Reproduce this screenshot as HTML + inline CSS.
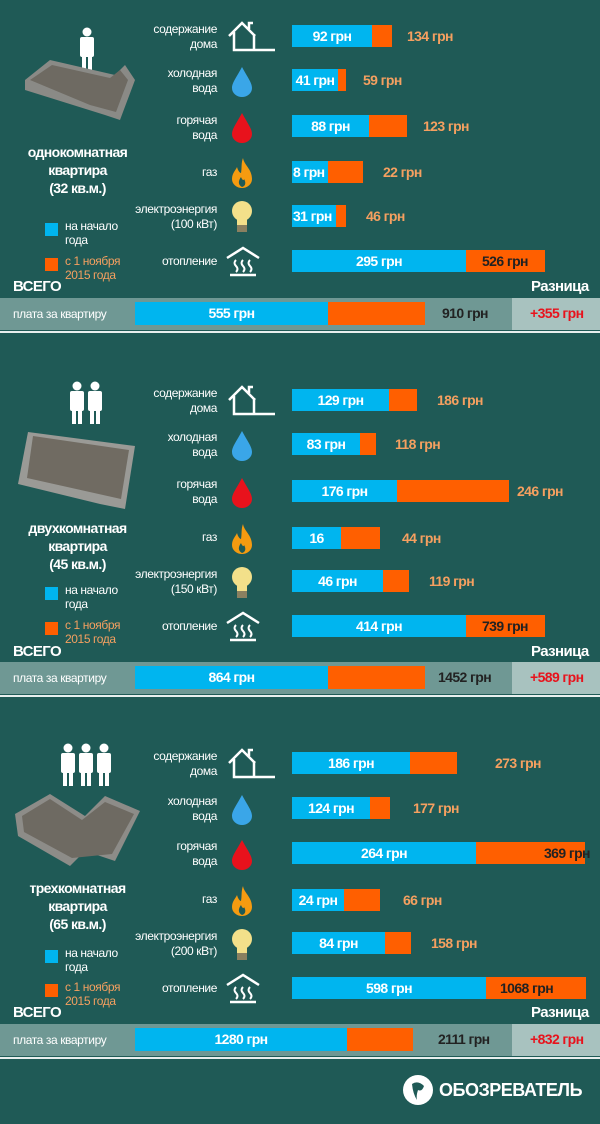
<!DOCTYPE html>
<html><head><meta charset="utf-8"><style>
*{margin:0;padding:0;box-sizing:border-box}
body{width:600px;height:1124px;background:#1f5a56;position:relative;overflow:hidden;font-family:"Liberation Sans",sans-serif;font-weight:bold;color:#fff}
.s{position:absolute;left:0;width:600px;height:340px}
.a{position:absolute;white-space:nowrap}
.lb{position:absolute;right:383px;text-align:right;font-size:12px;line-height:15px;color:#fff;font-weight:normal;letter-spacing:-0.4px;white-space:nowrap}
.b{position:absolute;height:22px;background:#ff5f00}
.bb{position:absolute;left:0;top:0;height:22px;background:#00b5ef;font-size:14px;line-height:22px;text-align:center;color:#fff;white-space:nowrap;letter-spacing:-0.6px}
.ol{position:absolute;font-size:14px;line-height:22px;color:#f5a060;white-space:nowrap;letter-spacing:-0.6px}
.ic{position:absolute}
.band{position:absolute;left:0;top:298px;width:600px;height:32px;background:#6f9894}
.band2{position:absolute;left:512px;top:298px;width:88px;height:32px;background:#a8c2bf}
.line{position:absolute;left:0;top:331px;width:600px;height:2px;background:#e8efee}
.title{position:absolute;left:0;width:155px;text-align:center;font-size:14px;line-height:18px;letter-spacing:-0.6px}
.lg{position:absolute;left:65px;font-size:12px;line-height:14px;font-weight:normal;letter-spacing:-0.4px;white-space:nowrap}
.tot{position:absolute;font-size:14px;line-height:23px;white-space:nowrap;letter-spacing:-0.6px}
.hd{position:absolute;font-size:15px;letter-spacing:-0.6px;white-space:nowrap}
</style></head><body>

<!-- SECTION 1 -->
<div class="s" style="top:0">
<svg class="ic" style="left:20px;top:20px" width="120" height="120"><g fill="#fff"><circle cx="67" cy="12" r="4.5"/><rect x="60" y="17" width="14" height="20" rx="2"/><rect x="62" y="35" width="4" height="15"/><rect x="68" y="35" width="4" height="15"/></g><polygon points="5,60 30,40 95,55 105,45 115,60 100,100 85,95 5,70" fill="#8a8a86"/><polygon points="10,60 32,45 90,58 100,50 108,60 96,92 70,85" fill="#6e6a62"/></svg>
<div class="title" style="top:143px">однокомнатная<br>квартира<br>(32 кв.м.)</div>
<div class="a" style="left:45px;top:223px;width:13px;height:13px;background:#00b5ef"></div>
<div class="lg" style="top:219px">на начало<br>года</div>
<div class="a" style="left:45px;top:258px;width:13px;height:13px;background:#ff5f00"></div>
<div class="lg" style="top:254px;color:#f5a060">с 1 ноября<br>2015 года</div>
<div class="hd" style="left:13px;top:278px">ВСЕГО</div>
<div class="hd" style="left:531px;top:278px">Разница</div>

<div class="lb" style="top:22px">содержание<br>дома</div>
<div class="lb" style="top:66px">холодная<br>вода</div>
<div class="lb" style="top:113px">горячая<br>вода</div>
<div class="lb" style="top:165px">газ</div>
<div class="lb" style="top:202px">электроэнергия<br>(100 кВт)</div>
<div class="lb" style="top:254px">отопление</div>

<svg class="ic" style="left:225px;top:20px" width="55" height="35"><path d="M4 16 L17 3 L30 16 M9 12 V30 H50 M24 9 V3 H28" fill="none" stroke="#fff" stroke-width="2.5"/><path d="M29 30 V14" stroke="#fff" stroke-width="2.5"/></svg>
<svg class="ic" style="left:230px;top:66px" width="24" height="32"><path d="M12 1 C6 12 2 17 2 22 A10 9 0 0 0 22 22 C22 17 18 12 12 1Z" fill="#3aa6e8"/></svg>
<svg class="ic" style="left:230px;top:112px" width="24" height="32"><path d="M12 1 C6 12 2 17 2 22 A10 9 0 0 0 22 22 C22 17 18 12 12 1Z" fill="#e8121c"/></svg>
<svg class="ic" style="left:230px;top:157px" width="24" height="32"><path d="M13 1 C14 8 22 12 22 22 A10 9 0 0 1 2 22 C2 16 6 13 7 10 C8 14 10 16 11 16 C12 11 11 6 13 1Z" fill="#f59b10"/><path d="M12 30 C8 28 8 24 11 20 C12 23 14 24 14 22 C16 25 16 29 12 30Z" fill="#1f5a56"/></svg>
<svg class="ic" style="left:230px;top:200px" width="24" height="34"><circle cx="12" cy="11" r="10" fill="#f3e08a"/><rect x="7" y="18" width="10" height="8" fill="#f3e08a"/><rect x="7" y="25" width="10" height="7" fill="#8a8060"/></svg>
<svg class="ic" style="left:225px;top:246px" width="36" height="32"><path d="M2 12 L18 2 L34 12" fill="none" stroke="#fff" stroke-width="2.5"/><path d="M11 14 q-3 3 0 6 q3 3 0 6 M18 14 q-3 3 0 6 q3 3 0 6 M25 14 q-3 3 0 6 q3 3 0 6" fill="none" stroke="#fff" stroke-width="2"/><path d="M5 29 H31" stroke="#fff" stroke-width="2.5"/></svg>

<div class="b" style="left:292px;top:25px;width:100px"><div class="bb" style="width:80px">92 грн</div></div><div class="ol" style="left:407px;top:25px">134 грн</div>
<div class="b" style="left:292px;top:69px;width:54px"><div class="bb" style="width:46px">41 грн</div></div><div class="ol" style="left:363px;top:69px">59 грн</div>
<div class="b" style="left:292px;top:115px;width:115px"><div class="bb" style="width:77px">88 грн</div></div><div class="ol" style="left:423px;top:115px">123 грн</div>
<div class="b" style="left:292px;top:161px;width:71px"><div class="bb" style="width:36px;text-align:left;padding-left:1px">8 грн</div></div><div class="ol" style="left:383px;top:161px">22 грн</div>
<div class="b" style="left:292px;top:205px;width:54px"><div class="bb" style="width:44px;text-align:left;padding-left:1px">31 грн</div></div><div class="ol" style="left:366px;top:205px">46 грн</div>
<div class="b" style="left:292px;top:250px;width:253px"><div class="bb" style="width:174px">295 грн</div></div><div class="ol" style="left:482px;top:250px;color:#222">526 грн</div>

<div class="band"></div><div class="band2"></div>
<div class="lg" style="left:13px;top:307px">плата за квартиру</div>
<div class="tot" style="left:135px;top:302px;width:193px;height:23px;background:#00b5ef;text-align:center">555 грн</div>
<div class="a" style="left:328px;top:302px;width:97px;height:23px;background:#ff5f00"></div>
<div class="tot" style="left:442px;top:302px;color:#222">910 грн</div>
<div class="tot" style="left:530px;top:302px;color:#e8121c">+355 грн</div>
<div class="line"></div>
</div>

<!-- SECTION 2 -->
<div class="s" style="top:364px">
<svg class="ic" style="left:15px;top:10px" width="125" height="140"><g fill="#fff"><circle cx="62" cy="12" r="4.5"/><rect x="55" y="17" width="14" height="20" rx="2"/><rect x="57" y="35" width="4" height="15"/><rect x="63" y="35" width="4" height="15"/><circle cx="80" cy="12" r="4.5"/><rect x="73" y="17" width="14" height="20" rx="2"/><rect x="75" y="35" width="4" height="15"/><rect x="81" y="35" width="4" height="15"/></g><polygon points="13,58 120,72 110,135 85,130 3,110" fill="#9a9a96"/><polygon points="18,62 114,76 106,125 12,104" fill="#706b62"/></svg>
<div class="title" style="top:155px">двухкомнатная<br>квартира<br>(45 кв.м.)</div>
<div class="a" style="left:45px;top:223px;width:13px;height:13px;background:#00b5ef"></div>
<div class="lg" style="top:219px">на начало<br>года</div>
<div class="a" style="left:45px;top:258px;width:13px;height:13px;background:#ff5f00"></div>
<div class="lg" style="top:254px;color:#f5a060">с 1 ноября<br>2015 года</div>
<div class="hd" style="left:13px;top:279px">ВСЕГО</div>
<div class="hd" style="left:531px;top:279px">Разница</div>

<div class="lb" style="top:22px">содержание<br>дома</div>
<div class="lb" style="top:66px">холодная<br>вода</div>
<div class="lb" style="top:113px">горячая<br>вода</div>
<div class="lb" style="top:166px">газ</div>
<div class="lb" style="top:203px">электроэнергия<br>(150 кВт)</div>
<div class="lb" style="top:255px">отопление</div>

<svg class="ic" style="left:225px;top:20px" width="55" height="35"><path d="M4 16 L17 3 L30 16 M9 12 V30 H50 M24 9 V3 H28" fill="none" stroke="#fff" stroke-width="2.5"/><path d="M29 30 V14" stroke="#fff" stroke-width="2.5"/></svg>
<svg class="ic" style="left:230px;top:66px" width="24" height="32"><path d="M12 1 C6 12 2 17 2 22 A10 9 0 0 0 22 22 C22 17 18 12 12 1Z" fill="#3aa6e8"/></svg>
<svg class="ic" style="left:230px;top:113px" width="24" height="32"><path d="M12 1 C6 12 2 17 2 22 A10 9 0 0 0 22 22 C22 17 18 12 12 1Z" fill="#e8121c"/></svg>
<svg class="ic" style="left:230px;top:159px" width="24" height="32"><path d="M13 1 C14 8 22 12 22 22 A10 9 0 0 1 2 22 C2 16 6 13 7 10 C8 14 10 16 11 16 C12 11 11 6 13 1Z" fill="#f59b10"/><path d="M12 30 C8 28 8 24 11 20 C12 23 14 24 14 22 C16 25 16 29 12 30Z" fill="#1f5a56"/></svg>
<svg class="ic" style="left:230px;top:202px" width="24" height="34"><circle cx="12" cy="11" r="10" fill="#f3e08a"/><rect x="7" y="18" width="10" height="8" fill="#f3e08a"/><rect x="7" y="25" width="10" height="7" fill="#8a8060"/></svg>
<svg class="ic" style="left:225px;top:247px" width="36" height="32"><path d="M2 12 L18 2 L34 12" fill="none" stroke="#fff" stroke-width="2.5"/><path d="M11 14 q-3 3 0 6 q3 3 0 6 M18 14 q-3 3 0 6 q3 3 0 6 M25 14 q-3 3 0 6 q3 3 0 6" fill="none" stroke="#fff" stroke-width="2"/><path d="M5 29 H31" stroke="#fff" stroke-width="2.5"/></svg>

<div class="b" style="left:292px;top:25px;width:125px"><div class="bb" style="width:97px">129 грн</div></div><div class="ol" style="left:437px;top:25px">186 грн</div>
<div class="b" style="left:292px;top:69px;width:84px"><div class="bb" style="width:68px">83 грн</div></div><div class="ol" style="left:395px;top:69px">118 грн</div>
<div class="b" style="left:292px;top:116px;width:217px"><div class="bb" style="width:105px">176 грн</div></div><div class="ol" style="left:517px;top:116px">246 грн</div>
<div class="b" style="left:292px;top:163px;width:88px"><div class="bb" style="width:49px">16</div></div><div class="ol" style="left:402px;top:163px">44 грн</div>
<div class="b" style="left:292px;top:206px;width:117px"><div class="bb" style="width:91px">46 грн</div></div><div class="ol" style="left:429px;top:206px">119 грн</div>
<div class="b" style="left:292px;top:251px;width:253px"><div class="bb" style="width:174px">414 грн</div></div><div class="ol" style="left:482px;top:251px;color:#222">739 грн</div>

<div class="band"></div><div class="band2"></div>
<div class="lg" style="left:13px;top:307px">плата за квартиру</div>
<div class="tot" style="left:135px;top:302px;width:193px;height:23px;background:#00b5ef;text-align:center">864 грн</div>
<div class="a" style="left:328px;top:302px;width:97px;height:23px;background:#ff5f00"></div>
<div class="tot" style="left:438px;top:302px;color:#222">1452 грн</div>
<div class="tot" style="left:530px;top:302px;color:#e8121c">+589 грн</div>
<div class="line"></div>
</div>

<!-- SECTION 3 -->
<div class="s" style="top:726px">
<svg class="ic" style="left:10px;top:10px" width="135" height="135"><g fill="#fff"><circle cx="58" cy="12" r="4.5"/><rect x="51" y="17" width="14" height="20" rx="2"/><rect x="53" y="35" width="4" height="15"/><rect x="59" y="35" width="4" height="15"/><circle cx="76" cy="12" r="4.5"/><rect x="69" y="17" width="14" height="20" rx="2"/><rect x="71" y="35" width="4" height="15"/><rect x="77" y="35" width="4" height="15"/><circle cx="94" cy="12" r="4.5"/><rect x="87" y="17" width="14" height="20" rx="2"/><rect x="89" y="35" width="4" height="15"/><rect x="95" y="35" width="4" height="15"/></g><polygon points="5,78 40,58 75,80 95,60 130,75 105,125 75,115 60,130 8,100" fill="#8d8c88"/><polygon points="12,80 40,63 72,84 95,66 124,78 102,118 62,122 14,96" fill="#6e6a62"/></svg>
<div class="title" style="top:153px">трехкомнатная<br>квартира<br>(65 кв.м.)</div>
<div class="a" style="left:45px;top:224px;width:13px;height:13px;background:#00b5ef"></div>
<div class="lg" style="top:220px">на начало<br>года</div>
<div class="a" style="left:45px;top:258px;width:13px;height:13px;background:#ff5f00"></div>
<div class="lg" style="top:254px;color:#f5a060">с 1 ноября<br>2015 года</div>
<div class="hd" style="left:13px;top:278px">ВСЕГО</div>
<div class="hd" style="left:531px;top:278px">Разница</div>

<div class="lb" style="top:23px">содержание<br>дома</div>
<div class="lb" style="top:68px">холодная<br>вода</div>
<div class="lb" style="top:113px">горячая<br>вода</div>
<div class="lb" style="top:166px">газ</div>
<div class="lb" style="top:203px">электроэнергия<br>(200 кВт)</div>
<div class="lb" style="top:255px">отопление</div>

<svg class="ic" style="left:225px;top:21px" width="55" height="35"><path d="M4 16 L17 3 L30 16 M9 12 V30 H50 M24 9 V3 H28" fill="none" stroke="#fff" stroke-width="2.5"/><path d="M29 30 V14" stroke="#fff" stroke-width="2.5"/></svg>
<svg class="ic" style="left:230px;top:68px" width="24" height="32"><path d="M12 1 C6 12 2 17 2 22 A10 9 0 0 0 22 22 C22 17 18 12 12 1Z" fill="#3aa6e8"/></svg>
<svg class="ic" style="left:230px;top:113px" width="24" height="32"><path d="M12 1 C6 12 2 17 2 22 A10 9 0 0 0 22 22 C22 17 18 12 12 1Z" fill="#e8121c"/></svg>
<svg class="ic" style="left:230px;top:159px" width="24" height="32"><path d="M13 1 C14 8 22 12 22 22 A10 9 0 0 1 2 22 C2 16 6 13 7 10 C8 14 10 16 11 16 C12 11 11 6 13 1Z" fill="#f59b10"/><path d="M12 30 C8 28 8 24 11 20 C12 23 14 24 14 22 C16 25 16 29 12 30Z" fill="#1f5a56"/></svg>
<svg class="ic" style="left:230px;top:202px" width="24" height="34"><circle cx="12" cy="11" r="10" fill="#f3e08a"/><rect x="7" y="18" width="10" height="8" fill="#f3e08a"/><rect x="7" y="25" width="10" height="7" fill="#8a8060"/></svg>
<svg class="ic" style="left:225px;top:247px" width="36" height="32"><path d="M2 12 L18 2 L34 12" fill="none" stroke="#fff" stroke-width="2.5"/><path d="M11 14 q-3 3 0 6 q3 3 0 6 M18 14 q-3 3 0 6 q3 3 0 6 M25 14 q-3 3 0 6 q3 3 0 6" fill="none" stroke="#fff" stroke-width="2"/><path d="M5 29 H31" stroke="#fff" stroke-width="2.5"/></svg>

<div class="b" style="left:292px;top:26px;width:165px"><div class="bb" style="width:118px">186 грн</div></div><div class="ol" style="left:495px;top:26px">273 грн</div>
<div class="b" style="left:292px;top:71px;width:98px"><div class="bb" style="width:78px">124 грн</div></div><div class="ol" style="left:413px;top:71px">177 грн</div>
<div class="b" style="left:292px;top:116px;width:293px"><div class="bb" style="width:184px">264 грн</div></div><div class="ol" style="left:544px;top:116px;color:#222">369 грн</div>
<div class="b" style="left:292px;top:163px;width:88px"><div class="bb" style="width:52px">24 грн</div></div><div class="ol" style="left:403px;top:163px">66 грн</div>
<div class="b" style="left:292px;top:206px;width:119px"><div class="bb" style="width:93px">84 грн</div></div><div class="ol" style="left:431px;top:206px">158 грн</div>
<div class="b" style="left:292px;top:251px;width:294px"><div class="bb" style="width:194px">598 грн</div></div><div class="ol" style="left:500px;top:251px;color:#222">1068 грн</div>

<div class="band"></div><div class="band2"></div>
<div class="lg" style="left:13px;top:307px">плата за квартиру</div>
<div class="tot" style="left:135px;top:302px;width:212px;height:23px;background:#00b5ef;text-align:center">1280 грн</div>
<div class="a" style="left:347px;top:302px;width:66px;height:23px;background:#ff5f00"></div>
<div class="tot" style="left:438px;top:302px;color:#222">2111 грн</div>
<div class="tot" style="left:530px;top:302px;color:#e8121c">+832 грн</div>
<div class="line"></div>
</div>

<svg class="ic" style="left:402px;top:1074px" width="32" height="32"><circle cx="16" cy="16" r="15" fill="#fff"/><path d="M10 10 q6 -4 12 2 q-2 6 -6 4 q-2 6 -1 10 q-4 -6 -5 -16z" fill="#1f5a56"/></svg>
<div class="a" style="left:439px;top:1076px;font-size:18px;line-height:28px;letter-spacing:-0.5px">ОБОЗРЕВАТЕЛЬ</div>
</body></html>
